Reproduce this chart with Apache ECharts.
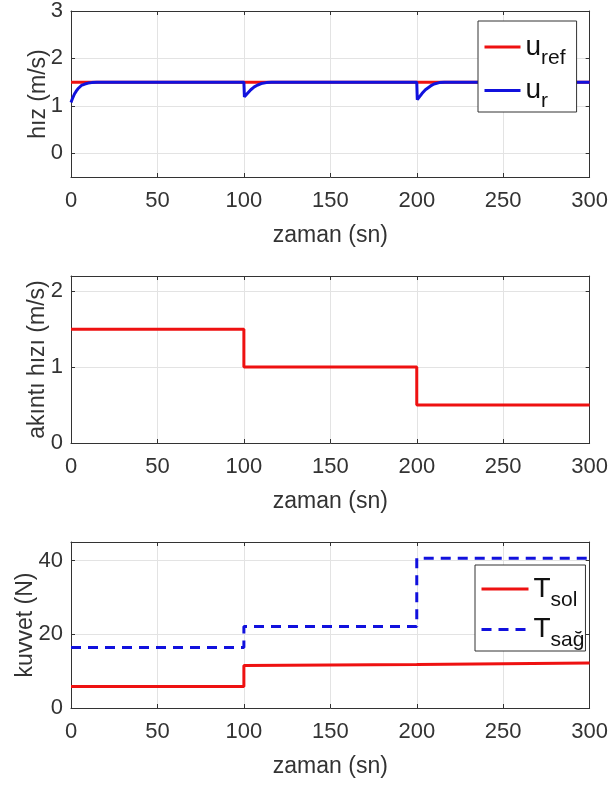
<!DOCTYPE html>
<html>
<head>
<meta charset="utf-8">
<script src="https://cdn.jsdelivr.net/npm/echarts@6/dist/echarts.min.js"></script>
<style>
  html, body { margin: 0; padding: 0; background: #fff; }
  #chart { width: 611px; height: 787px; }
</style>
</head>
<body>
<div id="chart"></div>
<script>
// hız: referans ve gerçek hız
const refTime = [0, 300];
const uRef = [1.5, 1.5];
const urTime = [0, 1, 2, 3, 4, 5, 6, 7, 8, 10, 12, 15,
  100, 100.3, 101, 102, 103, 104, 105, 106, 108, 110, 113, 116,
  200, 200.3, 201, 202, 203, 204, 205, 206, 208, 210, 213, 216, 300];
const ur = [1.07, 1.17, 1.25, 1.31, 1.36, 1.40, 1.43, 1.45, 1.46, 1.48, 1.49, 1.5,
  1.5, 1.19, 1.22, 1.26, 1.30, 1.34, 1.37, 1.40, 1.44, 1.47, 1.49, 1.5,
  1.5, 1.13, 1.17, 1.21, 1.26, 1.30, 1.34, 1.37, 1.42, 1.46, 1.49, 1.5, 1.5];

// akıntı hızı
const stepTime = [0, 100, 100, 200, 200, 300];
const akinti = [1.5, 1.5, 1.0, 1.0, 0.5, 0.5];

// kuvvetler
const tSol = [5.8, 5.8, 11.5, 11.8, 12.2, 12.2];
const tSag = [16.4, 16.4, 22.1, 22.1, 40.6, 40.6];

const yTicksTop = [0, 1, 2, 3];
const yTicksMid = [0, 1, 2];
const yTicksBot = [0, 20, 40];

const RED = "#ee1111";
const BLUE = "#1111dd";
const AX = "#333333";
const FONT = "Liberation Sans, Arial, sans-serif";

const pairs = (xs, ys) => xs.map((x, i) => [x, ys[i]]);

const grids = [
  { left: 71, top: 10, width: 519, height: 167 },
  { left: 71, top: 276, width: 519, height: 167 },
  { left: 71, top: 542, width: 519, height: 166 }
];

function xAx(g, pos) {
  const main = pos === "bottom";
  return {
    type: "value", gridIndex: g, position: pos,
    min: 0, max: 300, interval: 50,
    name: main ? "zaman (sn)" : "",
    nameLocation: "middle", nameGap: 47, nameMoveOverlap: false,
    nameTextStyle: { fontSize: 23, color: AX, fontFamily: FONT },
    axisLine: { show: true, onZero: false, lineStyle: { color: AX, width: 1 } },
    axisTick: { show: true, inside: true, length: 4, lineStyle: { color: AX } },
    axisLabel: { show: main, fontSize: 22, color: AX, fontFamily: FONT, margin: 13 },
    splitLine: { show: main, lineStyle: { color: "#e3e3e3", width: 1 } }
  };
}

function yAx(g, pos, min, max, ticks, name, gap) {
  const main = pos === "left";
  return {
    type: "value", gridIndex: g, position: pos,
    min: min, max: max,
    name: main ? name : "",
    nameLocation: "middle", nameGap: gap, nameMoveOverlap: false,
    nameTextStyle: { fontSize: 23, color: AX, fontFamily: FONT },
    axisLine: { show: true, onZero: false, lineStyle: { color: AX, width: 1 } },
    axisTick: { show: true, inside: true, length: 4, customValues: ticks, lineStyle: { color: AX } },
    axisLabel: { show: main, fontSize: 22, color: AX, fontFamily: FONT, margin: 8, customValues: ticks },
    splitLine: { show: main, lineStyle: { color: "#e3e3e3", width: 1 } }
  };
}

// alt simge: ana harf ortada, alt simge satırın altına yaslı
const legendRich = {
  m: { fontSize: 28, fontFamily: FONT, color: "#111", lineHeight: 43 },
  s: { fontSize: 21, fontFamily: FONT, color: "#111", lineHeight: 22, verticalAlign: "bottom" }
};
const legendLabels = {
  uref: "{m|u}{s|ref}",
  ur: "{m|u}{s|r}",
  tsol: "{m|T}{s|sol}",
  tsag: "{m|T}{s|sağ}"
};

const chart = echarts.init(document.getElementById("chart"));
const option = {
  backgroundColor: "#fff",
  animation: false,
  grid: grids,
  xAxis: [xAx(0, "bottom"), xAx(1, "bottom"), xAx(2, "bottom"), xAx(0, "top"), xAx(1, "top"), xAx(2, "top")],
  yAxis: [
    yAx(0, "left", -0.5, 3, yTicksTop, "hız (m/s)", 21),
    yAx(1, "left", 0, 2.2, yTicksMid, "akıntı hızı (m/s)", 22),
    yAx(2, "left", 0, 45, yTicksBot, "kuvvet (N)", 34),
    yAx(0, "right", -0.5, 3, yTicksTop, "", 0),
    yAx(1, "right", 0, 2.2, yTicksMid, "", 0),
    yAx(2, "right", 0, 45, yTicksBot, "", 0)
  ],
  legend: [
    {
      data: ["uref", "ur"], orient: "vertical", left: 478, top: 21,
      itemWidth: 36, itemHeight: 14, itemGap: 8,
      padding: [12, 11, 0, 5],
      borderColor: AX, borderWidth: 1, backgroundColor: "#fff",
      itemStyle: { opacity: 0 },
      lineStyle: { width: 3 },
      formatter: n => legendLabels[n],
      textStyle: { rich: legendRich }
    },
    {
      data: ["tsol", "tsag"], orient: "vertical", left: 475, top: 565,
      itemWidth: 47, itemHeight: 14, itemGap: 5,
      padding: [10, 1, 0, 5],
      borderColor: AX, borderWidth: 1, backgroundColor: "#fff",
      itemStyle: { opacity: 0 },
      lineStyle: { width: 3 },
      formatter: n => legendLabels[n],
      textStyle: { rich: legendRich }
    }
  ],
  series: [
    { name: "uref", type: "line", xAxisIndex: 0, yAxisIndex: 0, showSymbol: false, symbol: "none",
      data: pairs(refTime, uRef), lineStyle: { color: RED, width: 3 }, itemStyle: { color: RED } },
    { name: "ur", type: "line", xAxisIndex: 0, yAxisIndex: 0, showSymbol: false, symbol: "none",
      data: pairs(urTime, ur), lineStyle: { color: BLUE, width: 3 }, itemStyle: { color: BLUE } },
    { name: "akinti", type: "line", xAxisIndex: 1, yAxisIndex: 1, showSymbol: false, symbol: "none",
      data: pairs(stepTime, akinti), lineStyle: { color: RED, width: 3 }, itemStyle: { color: RED } },
    { name: "tsol", type: "line", xAxisIndex: 2, yAxisIndex: 2, showSymbol: false, symbol: "none",
      data: pairs(stepTime, tSol), lineStyle: { color: RED, width: 3 }, itemStyle: { color: RED } },
    { name: "tsag", type: "line", xAxisIndex: 2, yAxisIndex: 2, showSymbol: false, symbol: "none",
      data: pairs(stepTime, tSag), lineStyle: { color: BLUE, width: 3, type: [10, 7] }, itemStyle: { color: BLUE } }
  ]
};
chart.setOption(option);
</script>
</body>
</html>
